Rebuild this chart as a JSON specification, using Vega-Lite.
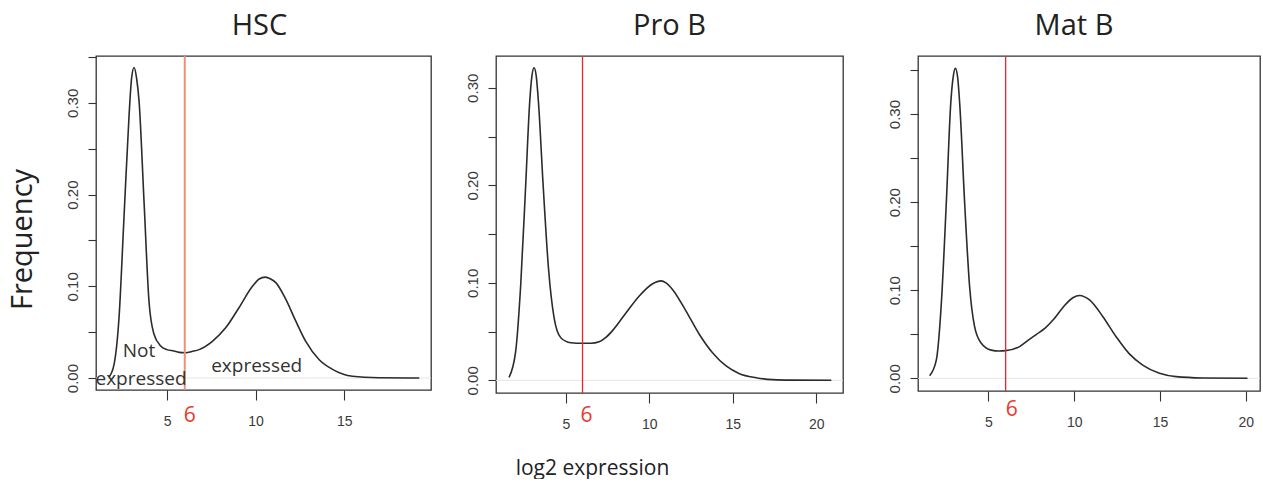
{
  "$schema": "https://vega.github.io/schema/vega-lite/v6.json",
  "padding": {"left": 7, "top": 11, "right": 0, "bottom": 0},
  "spacing": 27,
  "config": {
    "view": {"stroke": "#333", "strokeWidth": 1.3},
    "font": "Open Sans",
    "title": {"fontSize": 29, "font": "Open Sans", "fontWeight": "normal", "color": "#222", "offset": 14},
    "axis": {"domain": false, "grid": false, "tickColor": "#333", "tickWidth": 1.1, "labelColor": "#3a3a3a", "labelFont": "Liberation Sans", "labelOverlap": false, "labelFlush": false},
    "axisX": {"tickSize": 10, "labelFontSize": 14, "labelPadding": 14},
    "axisY": {"tickSize": 8, "labelFontSize": 15, "labelAngle": -90, "labelAlign": "center", "labelBaseline": "alphabetic", "labelPadding": 11}
  },
  "datasets": {
    "density": [
      {"panel": "HSC", "log2expr": 1.72, "freq": 0.001},
      {"panel": "HSC", "log2expr": 2.01, "freq": 0.015},
      {"panel": "HSC", "log2expr": 2.29, "freq": 0.066},
      {"panel": "HSC", "log2expr": 2.57, "freq": 0.175},
      {"panel": "HSC", "log2expr": 2.85, "freq": 0.284},
      {"panel": "HSC", "log2expr": 3.0, "freq": 0.327},
      {"panel": "HSC", "log2expr": 3.14, "freq": 0.3385},
      {"panel": "HSC", "log2expr": 3.28, "freq": 0.327},
      {"panel": "HSC", "log2expr": 3.42, "freq": 0.302},
      {"panel": "HSC", "log2expr": 3.7, "freq": 0.193},
      {"panel": "HSC", "log2expr": 3.98, "freq": 0.084},
      {"panel": "HSC", "log2expr": 4.26, "freq": 0.048},
      {"panel": "HSC", "log2expr": 4.64, "freq": 0.035},
      {"panel": "HSC", "log2expr": 5.0, "freq": 0.031},
      {"panel": "HSC", "log2expr": 5.39, "freq": 0.0295},
      {"panel": "HSC", "log2expr": 5.68, "freq": 0.028},
      {"panel": "HSC", "log2expr": 6.06, "freq": 0.0276},
      {"panel": "HSC", "log2expr": 6.4, "freq": 0.029},
      {"panel": "HSC", "log2expr": 6.81, "freq": 0.031},
      {"panel": "HSC", "log2expr": 7.56, "freq": 0.04},
      {"panel": "HSC", "log2expr": 8.32, "freq": 0.055},
      {"panel": "HSC", "log2expr": 9.06, "freq": 0.0767},
      {"panel": "HSC", "log2expr": 9.82, "freq": 0.1},
      {"panel": "HSC", "log2expr": 10.2, "freq": 0.108},
      {"panel": "HSC", "log2expr": 10.54, "freq": 0.11},
      {"panel": "HSC", "log2expr": 10.85, "freq": 0.108},
      {"panel": "HSC", "log2expr": 11.14, "freq": 0.104},
      {"panel": "HSC", "log2expr": 11.7, "freq": 0.086},
      {"panel": "HSC", "log2expr": 12.27, "freq": 0.062},
      {"panel": "HSC", "log2expr": 12.83, "freq": 0.04},
      {"panel": "HSC", "log2expr": 13.59, "freq": 0.02},
      {"panel": "HSC", "log2expr": 14.34, "freq": 0.0095},
      {"panel": "HSC", "log2expr": 15.47, "freq": 0.002},
      {"panel": "HSC", "log2expr": 16.98, "freq": 0.0004},
      {"panel": "HSC", "log2expr": 19.24, "freq": 0.0},
      {"panel": "Pro B", "log2expr": 1.6, "freq": 0.003},
      {"panel": "Pro B", "log2expr": 2.0, "freq": 0.03},
      {"panel": "Pro B", "log2expr": 2.3, "freq": 0.098},
      {"panel": "Pro B", "log2expr": 2.6, "freq": 0.201},
      {"panel": "Pro B", "log2expr": 2.84, "freq": 0.286},
      {"panel": "Pro B", "log2expr": 2.97, "freq": 0.312},
      {"panel": "Pro B", "log2expr": 3.1, "freq": 0.3206},
      {"panel": "Pro B", "log2expr": 3.23, "freq": 0.312},
      {"panel": "Pro B", "log2expr": 3.36, "freq": 0.286},
      {"panel": "Pro B", "log2expr": 3.64, "freq": 0.201},
      {"panel": "Pro B", "log2expr": 3.96, "freq": 0.1155},
      {"panel": "Pro B", "log2expr": 4.3, "freq": 0.064},
      {"panel": "Pro B", "log2expr": 4.7, "freq": 0.0437},
      {"panel": "Pro B", "log2expr": 5.3, "freq": 0.0386},
      {"panel": "Pro B", "log2expr": 6.0, "freq": 0.038},
      {"panel": "Pro B", "log2expr": 6.5, "freq": 0.038},
      {"panel": "Pro B", "log2expr": 7.0, "freq": 0.0395},
      {"panel": "Pro B", "log2expr": 7.4, "freq": 0.044},
      {"panel": "Pro B", "log2expr": 7.8, "freq": 0.051},
      {"panel": "Pro B", "log2expr": 8.6, "freq": 0.069},
      {"panel": "Pro B", "log2expr": 9.4, "freq": 0.0865},
      {"panel": "Pro B", "log2expr": 10.2, "freq": 0.099},
      {"panel": "Pro B", "log2expr": 10.7, "freq": 0.102},
      {"panel": "Pro B", "log2expr": 11.0, "freq": 0.1},
      {"panel": "Pro B", "log2expr": 11.4, "freq": 0.093},
      {"panel": "Pro B", "log2expr": 12.2, "freq": 0.071},
      {"panel": "Pro B", "log2expr": 13.0, "freq": 0.047},
      {"panel": "Pro B", "log2expr": 13.8, "freq": 0.028},
      {"panel": "Pro B", "log2expr": 14.6, "freq": 0.0147},
      {"panel": "Pro B", "log2expr": 15.4, "freq": 0.0068},
      {"panel": "Pro B", "log2expr": 16.4, "freq": 0.0027},
      {"panel": "Pro B", "log2expr": 17.4, "freq": 0.0007},
      {"panel": "Pro B", "log2expr": 18.5, "freq": 0.0002},
      {"panel": "Pro B", "log2expr": 20.9, "freq": 0.0},
      {"panel": "Mat B", "log2expr": 1.57, "freq": 0.003},
      {"panel": "Mat B", "log2expr": 1.96, "freq": 0.021},
      {"panel": "Mat B", "log2expr": 2.25, "freq": 0.085},
      {"panel": "Mat B", "log2expr": 2.54, "freq": 0.199},
      {"panel": "Mat B", "log2expr": 2.8, "freq": 0.3125},
      {"panel": "Mat B", "log2expr": 2.94, "freq": 0.342},
      {"panel": "Mat B", "log2expr": 3.07, "freq": 0.352},
      {"panel": "Mat B", "log2expr": 3.2, "freq": 0.342},
      {"panel": "Mat B", "log2expr": 3.32, "freq": 0.3125},
      {"panel": "Mat B", "log2expr": 3.61, "freq": 0.199},
      {"panel": "Mat B", "log2expr": 3.9, "freq": 0.104},
      {"panel": "Mat B", "log2expr": 4.19, "freq": 0.0587},
      {"panel": "Mat B", "log2expr": 4.58, "freq": 0.0398},
      {"panel": "Mat B", "log2expr": 5.16, "freq": 0.032},
      {"panel": "Mat B", "log2expr": 5.6, "freq": 0.031},
      {"panel": "Mat B", "log2expr": 6.0, "freq": 0.0314},
      {"panel": "Mat B", "log2expr": 6.81, "freq": 0.036},
      {"panel": "Mat B", "log2expr": 7.3, "freq": 0.043},
      {"panel": "Mat B", "log2expr": 7.8, "freq": 0.05},
      {"panel": "Mat B", "log2expr": 8.3, "freq": 0.057},
      {"panel": "Mat B", "log2expr": 8.8, "freq": 0.067},
      {"panel": "Mat B", "log2expr": 9.34, "freq": 0.0805},
      {"panel": "Mat B", "log2expr": 9.92, "freq": 0.0915},
      {"panel": "Mat B", "log2expr": 10.31, "freq": 0.094},
      {"panel": "Mat B", "log2expr": 10.6, "freq": 0.0925},
      {"panel": "Mat B", "log2expr": 10.89, "freq": 0.089},
      {"panel": "Mat B", "log2expr": 11.67, "freq": 0.07},
      {"panel": "Mat B", "log2expr": 12.45, "freq": 0.047},
      {"panel": "Mat B", "log2expr": 13.2, "freq": 0.028},
      {"panel": "Mat B", "log2expr": 13.99, "freq": 0.015},
      {"panel": "Mat B", "log2expr": 14.97, "freq": 0.0057},
      {"panel": "Mat B", "log2expr": 15.94, "freq": 0.0019},
      {"panel": "Mat B", "log2expr": 17.49, "freq": 0.0004},
      {"panel": "Mat B", "log2expr": 20.1, "freq": 0.0}
    ],
    "threshold": [
      {"panel": "HSC", "cutoff": 6},
      {"panel": "Pro B", "cutoff": 6},
      {"panel": "Mat B", "cutoff": 6}
    ],
    "notes": [
      {"panel": "HSC", "log2expr": 3.42, "freq": 0.0295, "note": "Not"},
      {"panel": "HSC", "log2expr": 3.53, "freq": -0.001, "note": "expressed"},
      {"panel": "HSC", "log2expr": 10.06, "freq": 0.013, "note": "expressed"}
    ]
  },
  "hconcat": [
    {
      "width": 335,
      "height": 334,
      "title": {"text": "HSC", "dx": -4},
      "layer": [
        {
          "data": {"name": "threshold"},
          "transform": [{"filter": "datum.panel === 'HSC'"}],
          "mark": {"type": "rule", "color": "#e6e6e6", "strokeWidth": 1},
          "encoding": {"y": {"datum": 0, "type": "quantitative"}}
        },
        {
          "data": {"name": "density"},
          "transform": [{"filter": "datum.panel === 'HSC'"}],
          "mark": {"type": "line", "color": "#2b2b2b", "strokeWidth": 1.6, "interpolate": "monotone", "clip": true},
          "encoding": {
            "x": {"field": "log2expr", "type": "quantitative", "scale": {"domain": [0.99, 19.9], "nice": false, "zero": false},
              "axis": {"values": [5, 10, 15], "title": null}},
            "y": {"field": "freq", "type": "quantitative", "scale": {"domain": [-0.013, 0.351], "nice": false, "zero": false},
              "axis": {"values": [0, 0.05, 0.1, 0.15, 0.2, 0.25, 0.3, 0.35],
                "labelExpr": "round(datum.value*100) % 10 === 0 ? format(datum.value, '.2f') : ''",
                "title": "Frequency", "titleFontSize": 29, "titleFont": "Open Sans", "titleFontWeight": "normal", "titleColor": "#222",
                "titlePadding": 30, "titleBaseline": "alphabetic", "titleY": 183, "titleAlign": "center", "minExtent": 35, "maxExtent": 35}}
          }
        },
        {
          "data": {"name": "threshold"},
          "transform": [{"filter": "datum.panel === 'HSC'"}],
          "mark": {"type": "rule", "color": "#f28d76", "strokeWidth": 2},
          "encoding": {"x": {"field": "cutoff", "type": "quantitative"}}
        },
        {
          "data": {"name": "threshold"},
          "transform": [{"filter": "datum.panel === 'HSC'"}],
          "mark": {"type": "text", "color": "#e8392b", "fontSize": 21, "font": "Open Sans", "dx": 5, "dy": 38, "baseline": "middle"},
          "encoding": {
            "x": {"field": "cutoff", "type": "quantitative"},
            "y": {"datum": 0, "type": "quantitative"},
            "text": {"field": "cutoff"}
          }
        },
        {
          "data": {"name": "notes"},
          "transform": [{"filter": "datum.panel === 'HSC'"}],
          "mark": {"type": "text", "color": "#333", "fontSize": 19, "font": "Open Sans", "baseline": "middle"},
          "encoding": {
            "x": {"field": "log2expr", "type": "quantitative"},
            "y": {"field": "freq", "type": "quantitative"},
            "text": {"field": "note"}
          }
        }
      ]
    },
    {
      "width": 347,
      "height": 337,
      "title": {"text": "Pro B"},
      "layer": [
        {
          "data": {"name": "threshold"},
          "transform": [{"filter": "datum.panel === 'Pro B'"}],
          "mark": {"type": "rule", "color": "#e6e6e6", "strokeWidth": 1},
          "encoding": {"y": {"datum": 0, "type": "quantitative"}}
        },
        {
          "data": {"name": "density"},
          "transform": [{"filter": "datum.panel === 'Pro B'"}],
          "mark": {"type": "line", "color": "#2b2b2b", "strokeWidth": 1.6, "interpolate": "monotone", "clip": true},
          "encoding": {
            "x": {"field": "log2expr", "type": "quantitative", "scale": {"domain": [0.82, 21.6], "nice": false, "zero": false},
              "axis": {"values": [5, 10, 15, 20], "title": "log2 expression", "titleFontSize": 21, "titleFont": "Open Sans", "titleFontWeight": "normal", "titleColor": "#222",
                "titleX": 96, "titleY": 75, "titleAlign": "center", "titleBaseline": "middle"}},
            "y": {"field": "freq", "type": "quantitative", "scale": {"domain": [-0.013, 0.3326], "nice": false, "zero": false},
              "axis": {"values": [0, 0.05, 0.1, 0.15, 0.2, 0.25, 0.3],
                "labelExpr": "round(datum.value*100) % 10 === 0 ? format(datum.value, '.2f') : ''",
                "title": null, "minExtent": 35, "maxExtent": 35}}
          }
        },
        {
          "data": {"name": "threshold"},
          "transform": [{"filter": "datum.panel === 'Pro B'"}],
          "mark": {"type": "rule", "color": "#e8282a", "strokeWidth": 1.3},
          "encoding": {"x": {"field": "cutoff", "type": "quantitative"}}
        },
        {
          "data": {"name": "threshold"},
          "transform": [{"filter": "datum.panel === 'Pro B'"}],
          "mark": {"type": "text", "color": "#e8392b", "fontSize": 21, "font": "Open Sans", "dx": 4, "dy": 36, "baseline": "middle"},
          "encoding": {
            "x": {"field": "cutoff", "type": "quantitative"},
            "y": {"datum": 0, "type": "quantitative"},
            "text": {"field": "cutoff"}
          }
        }
      ]
    },
    {
      "width": 342,
      "height": 335,
      "title": {"text": "Mat B", "dx": -15},
      "layer": [
        {
          "data": {"name": "threshold"},
          "transform": [{"filter": "datum.panel === 'Mat B'"}],
          "mark": {"type": "rule", "color": "#e6e6e6", "strokeWidth": 1},
          "encoding": {"y": {"datum": 0, "type": "quantitative"}}
        },
        {
          "data": {"name": "density"},
          "transform": [{"filter": "datum.panel === 'Mat B'"}],
          "mark": {"type": "line", "color": "#2b2b2b", "strokeWidth": 1.6, "interpolate": "monotone", "clip": true},
          "encoding": {
            "x": {"field": "log2expr", "type": "quantitative", "scale": {"domain": [0.89, 20.83], "nice": false, "zero": false},
              "axis": {"values": [5, 10, 15, 20], "title": null}},
            "y": {"field": "freq", "type": "quantitative", "scale": {"domain": [-0.0144, 0.366], "nice": false, "zero": false},
              "axis": {"values": [0, 0.05, 0.1, 0.15, 0.2, 0.25, 0.3, 0.35],
                "labelExpr": "round(datum.value*100) % 10 === 0 ? format(datum.value, '.2f') : ''",
                "title": null, "minExtent": 45, "maxExtent": 45}}
          }
        },
        {
          "data": {"name": "threshold"},
          "transform": [{"filter": "datum.panel === 'Mat B'"}],
          "mark": {"type": "rule", "color": "#e8282a", "strokeWidth": 1.3},
          "encoding": {"x": {"field": "cutoff", "type": "quantitative"}}
        },
        {
          "data": {"name": "threshold"},
          "transform": [{"filter": "datum.panel === 'Mat B'"}],
          "mark": {"type": "text", "color": "#e8392b", "fontSize": 21, "font": "Open Sans", "dx": 6, "dy": 32, "baseline": "middle"},
          "encoding": {
            "x": {"field": "cutoff", "type": "quantitative"},
            "y": {"datum": 0, "type": "quantitative"},
            "text": {"field": "cutoff"}
          }
        }
      ]
    }
  ]
}
